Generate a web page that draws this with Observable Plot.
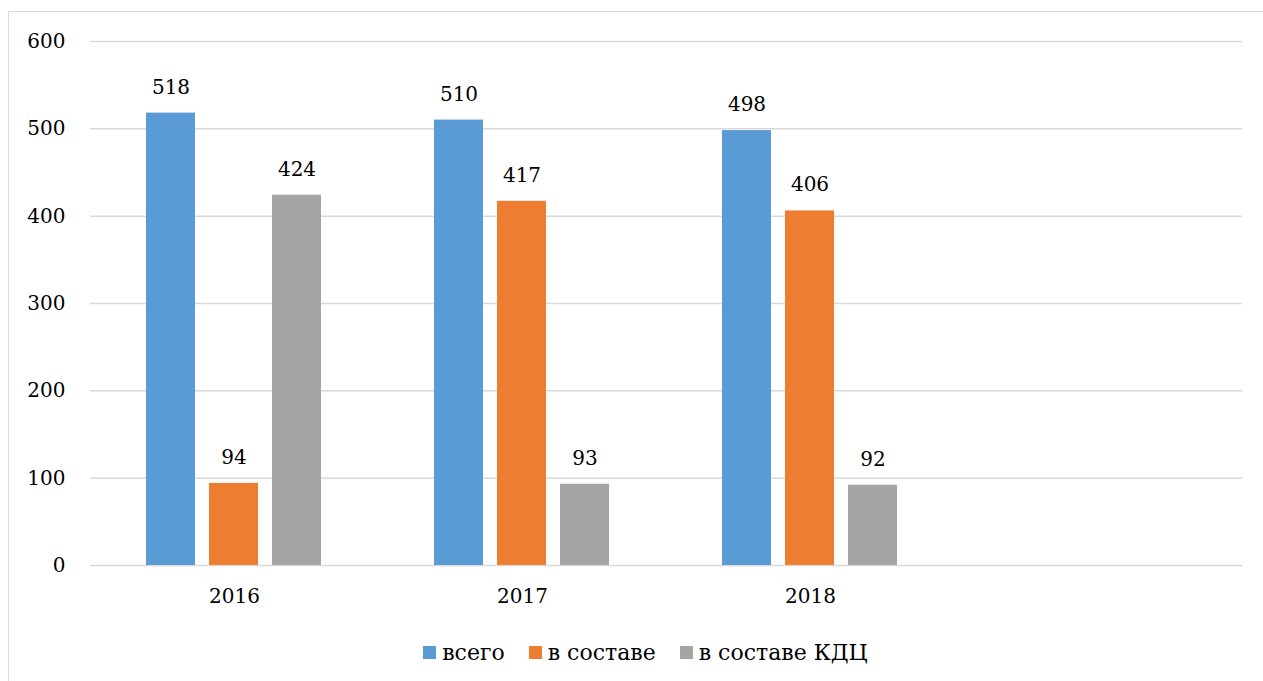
<!DOCTYPE html>
<html>
<head>
<meta charset="utf-8">
<script src="https://cdn.jsdelivr.net/npm/d3@7"></script>
<script src="https://cdn.jsdelivr.net/npm/@observablehq/plot@0.6"></script>
<style>
  html, body { margin: 0; padding: 0; background: #fff; }
  body { width: 1263px; height: 681px; position: relative; overflow: hidden; font-family: "DejaVu Serif"; }
  #frame { position: absolute; left: 8px; top: 11px; width: 1300px; height: 700px; border: 1.5px solid #d9d9d9; box-sizing: border-box; }
  #chart { position: absolute; left: 0; top: 0; }
  #chart svg, #chart svg text { font-family: "DejaVu Serif"; }
  #legend { position: absolute; left: 14px; top: 640px; width: 1263px; display: flex; justify-content: center; align-items: center; font-size: 22px; color: #000; font-family: "DejaVu Serif"; }
  .item { display: flex; align-items: center; margin: 0 12px; }
  .sw { width: 13px; height: 13px; margin-right: 6px; display: inline-block; }
</style>
</head>
<body>
<div id="frame"></div>
<div id="chart"></div>
<div id="legend"></div>
<script>
const years = ["2016", "2017", "2018", " "];
const seriesNames = ["всего", "в составе", "в составе КДЦ"];
const colors = ["#5b9bd5", "#ed7d31", "#a5a5a5"];
const valuesTotal = [518, 510, 498];
const valuesSostav = [94, 417, 406];
const valuesKDC = [424, 93, 92];
const yTicks = [0, 100, 200, 300, 400, 500, 600];

const seriesValues = [valuesTotal, valuesSostav, valuesKDC];
const data = [];
years.slice(0, 3).forEach((yr, i) => {
  seriesNames.forEach((s, j) => data.push({year: yr, series: s, value: seriesValues[j][i]}));
});
const grid = years.flatMap(yr => yTicks.map(v => ({year: yr, value: v})));

const chart = Plot.plot({
  width: 1263,
  height: 640,
  marginLeft: 88,
  marginRight: 20,
  marginTop: 41,
  marginBottom: 75,
  style: {fontFamily: "DejaVu Serif", fontSize: "20px", color: "#000", background: "transparent"},
  fx: {domain: years, padding: 0, label: null, axis: null},
  x: {domain: seriesNames, paddingInner: 0.21875, paddingOuter: 0.865, axis: null},
  y: {domain: [0, 600], ticks: yTicks, label: null},
  color: {domain: seriesNames, range: colors},
  marks: [
    Plot.ruleY(grid, {fx: "year", y: "value", stroke: "#d9d9d9", strokeWidth: 1.5}),
    Plot.axisY({ticks: yTicks, tickSize: 0, tickPadding: 25, label: null, fontSize: 20, fill: "#000"}),
    Plot.axisFx({domain: years, tickSize: 0, tickPadding: 23, label: null, fontSize: 20, fill: "#000", anchor: "bottom"}),
    Plot.barY(data, {fx: "year", x: "series", y: "value", fill: "series"}),
    Plot.text(data, {fx: "year", x: "series", y: "value", text: d => String(d.value), dy: -26, fontSize: 20, fill: "#000"})
  ]
});
document.getElementById("chart").appendChild(chart);

const legend = document.getElementById("legend");
seriesNames.forEach((s, i) => {
  const it = document.createElement("div");
  it.className = "item";
  const sw = document.createElement("span");
  sw.className = "sw";
  sw.style.background = colors[i];
  const t = document.createElement("span");
  t.textContent = s;
  it.appendChild(sw); it.appendChild(t);
  legend.appendChild(it);
});
</script>
</body>
</html>
